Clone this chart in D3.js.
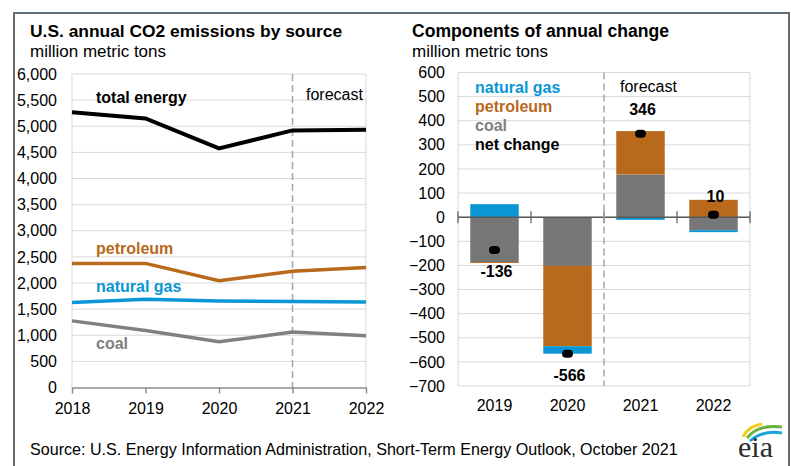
<!DOCTYPE html>
<html>
<head>
<meta charset="utf-8">
<script src="https://cdn.jsdelivr.net/npm/d3@7"></script>
<style>
  body { margin: 0; background: #fff; }
  svg { display: block; font-family: "Liberation Sans", Arial, sans-serif; }
</style>
</head>
<body>
<div id="chart"></div>
<script>
// left panel: annual emissions by source
var years = [2018, 2019, 2020, 2021, 2022];
var totalEnergy = [5270, 5150, 4575, 4920, 4935];
var petroleum = [2375, 2375, 2045, 2225, 2295];
var naturalGas = [1625, 1690, 1655, 1645, 1635];
var coal = [1275, 1090, 875, 1060, 990];
var leftTicks = d3.range(0, 6001, 500);

// right panel: components of annual change
var changeYears = [2019, 2020, 2021, 2022];
var coalChange = [-186, -202, 177, -54];
var petChange = [-4, -333, 180, 72];
var gasChange = [54, -31, -11, -8];
var netChange = [-136, -566, 346, 10];
var rightTicks = d3.range(-700, 601, 100);

var colors = { gas: "#0a96d4", pet: "#b8691b", coal: "#767676", coalLine: "#808080" };

var svg = d3.select("#chart").append("svg")
    .attr("width", 791)
    .attr("height", 466);

svg.append("rect").attr("width", 791).attr("height", 466).attr("fill", "#fff");

// outer frame
svg.append("path")
    .attr("d", "M14,466 V13 H789 V466")
    .attr("fill", "none")
    .attr("stroke", "#5f6e78")
    .attr("stroke-width", 2);

var fmt = d3.format(",");

/* ---------- left chart ---------- */
var x = d3.scalePoint().domain(years).range([72, 366]);
var y = d3.scaleLinear().domain([0, 6000]).range([387.5, 74]);

var left = svg.append("g");

left.append("text").attr("x", 30).attr("y", 37)
    .attr("font-size", 17.4).attr("font-weight", "bold").text("U.S. annual CO2 emissions by source");
left.append("text").attr("x", 30).attr("y", 57)
    .attr("font-size", 17).text("million metric tons");

left.selectAll(".grid").data(leftTicks.slice(1)).enter().append("line")
    .attr("x1", x.range()[0]).attr("x2", x.range()[1])
    .attr("y1", function (d) { return y(d); }).attr("y2", function (d) { return y(d); })
    .attr("stroke", "#d9d9d9").attr("stroke-width", 1);
left.append("line").attr("x1", 72).attr("x2", 72).attr("y1", 74).attr("y2", 387.5)
    .attr("stroke", "#d9d9d9");
left.append("line").attr("x1", 366).attr("x2", 366).attr("y1", 74).attr("y2", 387.5)
    .attr("stroke", "#d9d9d9");

// forecast divider
left.append("line").attr("x1", x(2021)).attr("x2", x(2021)).attr("y1", 74).attr("y2", 387.5)
    .attr("stroke", "#a6a6a6").attr("stroke-width", 1.5).attr("stroke-dasharray", "7,4");

var yAxisL = d3.axisLeft(y).tickValues(leftTicks).tickFormat(fmt).tickSize(0).tickPadding(0);
var gyl = left.append("g").attr("transform", "translate(57,0)").call(yAxisL);
gyl.select(".domain").remove();
gyl.selectAll("text").attr("font-size", 16).attr("fill", "#000").attr("font-family", null);

var xAxisL = d3.axisBottom(x).tickSize(6).tickPadding(9).tickSizeOuter(0);
var gxl = left.append("g").attr("transform", "translate(0,387.5)").call(xAxisL);
gxl.select(".domain").attr("stroke", "#8c8c8c").attr("stroke-width", 1.5);
gxl.selectAll(".tick line").attr("stroke", "#8c8c8c").attr("stroke-width", 1.5);
gxl.selectAll("text").attr("font-size", 16).attr("fill", "#000").attr("font-family", null);

var line = d3.line()
    .x(function (d, i) { return x(years[i]); })
    .y(function (d) { return y(d); });

var series = [
  { values: coal, color: colors.coalLine, width: 3.5 },
  { values: naturalGas, color: colors.gas, width: 3.5 },
  { values: petroleum, color: colors.pet, width: 3.5 },
  { values: totalEnergy, color: "#000", width: 4 }
];
left.selectAll(".series").data(series).enter().append("path")
    .attr("d", function (d) { return line(d.values); })
    .attr("fill", "none")
    .attr("stroke", function (d) { return d.color; })
    .attr("stroke-width", function (d) { return d.width; })
    .attr("stroke-linejoin", "miter");

var leftLabels = [
  { text: "total energy", color: "#000", yv: 5450 },
  { text: "petroleum", color: colors.pet, yv: 2550 },
  { text: "natural gas", color: colors.gas, yv: 1830 },
  { text: "coal", color: colors.coalLine, yv: 740 }
];
left.selectAll(".lbl").data(leftLabels).enter().append("text")
    .attr("x", 96).attr("y", function (d) { return y(d.yv); })
    .attr("font-size", 16).attr("font-weight", "bold")
    .attr("fill", function (d) { return d.color; })
    .text(function (d) { return d.text; });
left.append("text").attr("x", 306).attr("y", 100).attr("font-size", 16).text("forecast");

/* ---------- right chart ---------- */
var xb = d3.scaleBand().domain(changeYears).range([458, 750]).paddingInner(0.336).paddingOuter(0.168);
var yr = d3.scaleLinear().domain([-700, 600]).range([386, 72.5]);

var right = svg.append("g");
right.append("text").attr("x", 412).attr("y", 37)
    .attr("font-size", 17.6).attr("font-weight", "bold").text("Components of annual change");
right.append("text").attr("x", 412).attr("y", 57)
    .attr("font-size", 17).text("million metric tons");

right.selectAll(".grid").data(rightTicks).enter().append("line")
    .attr("x1", 458).attr("x2", 750)
    .attr("y1", function (d) { return yr(d); }).attr("y2", function (d) { return yr(d); })
    .attr("stroke", "#d9d9d9");
right.append("line").attr("x1", 458).attr("x2", 458).attr("y1", yr(600)).attr("y2", yr(-700)).attr("stroke", "#d9d9d9");
right.append("line").attr("x1", 750).attr("x2", 750).attr("y1", yr(600)).attr("y2", yr(-700)).attr("stroke", "#d9d9d9");

var yAxisR = d3.axisLeft(yr).tickValues(rightTicks).tickSize(0).tickPadding(0);
var gyr = right.append("g").attr("transform", "translate(445,0)").call(yAxisR);
gyr.select(".domain").remove();
gyr.selectAll("text").attr("font-size", 16).attr("fill", "#000").attr("font-family", null);

var rows = changeYears.map(function (yr0, i) {
  return { year: yr0, coal: coalChange[i], petroleum: petChange[i], gas: gasChange[i], net: netChange[i] };
});
var keys = ["coal", "petroleum", "gas"];
var keyColor = { coal: colors.coal, petroleum: colors.pet, gas: colors.gas };
var stacked = d3.stack().keys(keys).offset(d3.stackOffsetDiverging)(rows);

right.selectAll(".layer").data(stacked).enter().append("g")
    .attr("fill", function (d) { return keyColor[d.key]; })
  .selectAll("rect").data(function (d) { return d; }).enter().append("rect")
    .attr("x", function (d) { return xb(d.data.year); })
    .attr("width", xb.bandwidth())
    .attr("y", function (d) { return yr(Math.max(d[0], d[1])); })
    .attr("height", function (d) { return Math.abs(yr(d[0]) - yr(d[1])); });

// zero axis with category boundary ticks
right.append("line").attr("x1", 458).attr("x2", 750).attr("y1", yr(0)).attr("y2", yr(0))
    .attr("stroke", "#595959").attr("stroke-width", 1.5);
var bounds = changeYears.map(function (d) { return xb(d) - xb.step() * xb.paddingInner() / 2; });
bounds[0] = 458;
bounds.push(750);
right.selectAll(".btick").data(bounds).enter().append("line")
    .attr("x1", function (d) { return d; }).attr("x2", function (d) { return d; })
    .attr("y1", yr(0) - 6).attr("y2", yr(0) + 6)
    .attr("stroke", "#595959").attr("stroke-width", 1.2);

// forecast divider
var divX = xb(2021) - xb.step() * xb.paddingInner() / 2;
right.append("line").attr("x1", divX).attr("x2", divX).attr("y1", yr(600)).attr("y2", yr(-700))
    .attr("stroke", "#a6a6a6").attr("stroke-width", 1.5).attr("stroke-dasharray", "7,4");

// net change markers and labels
right.selectAll(".dot").data(rows).enter().append("rect")
    .attr("x", function (d) { return xb(d.year) + xb.bandwidth() / 2 - 5.5; })
    .attr("y", function (d) { return yr(d.net) - 4; })
    .attr("width", 11).attr("height", 8).attr("rx", 4).attr("fill", "#000");
right.selectAll(".val").data(rows).enter().append("text")
    .attr("x", function (d) { return xb(d.year) + xb.bandwidth() / 2 + 2; })
    .attr("y", function (d) { return yr(d.net) + (d.net > 100 ? -19 : d.net > 0 ? -13 : 27); })
    .attr("text-anchor", "middle").attr("font-size", 16).attr("font-weight", "bold")
    .text(function (d) { return d.net; });

var xAxisR = d3.axisBottom(xb).tickSize(0).tickPadding(0);
var gxr = right.append("g").attr("transform", "translate(0,400)").call(xAxisR);
gxr.select(".domain").remove();
gxr.selectAll("text").attr("font-size", 16).attr("fill", "#000").attr("font-family", null).attr("dy", "0.71em");

var legend = [
  { text: "natural gas", color: colors.gas },
  { text: "petroleum", color: colors.pet },
  { text: "coal", color: colors.coalLine },
  { text: "net change", color: "#000" }
];
right.selectAll(".leg").data(legend).enter().append("text")
    .attr("x", 475).attr("y", function (d, i) { return 93 + i * 19; })
    .attr("font-size", 16).attr("font-weight", "bold")
    .attr("fill", function (d) { return d.color; })
    .text(function (d) { return d.text; });
right.append("text").attr("x", 620).attr("y", 92).attr("font-size", 16).text("forecast");

/* ---------- footer ---------- */
svg.append("text").attr("x", 30).attr("y", 455).attr("font-size", 16.1)
    .text("Source: U.S. Energy Information Administration, Short-Term Energy Outlook, October 2021");

var logo = svg.append("g");
logo.append("path").attr("d", "M743,437 Q748,426 762,424").attr("fill", "none").attr("stroke", "#f2cd1e").attr("stroke-width", 3);
logo.append("path").attr("d", "M747,438 Q758,424 782,427").attr("fill", "none").attr("stroke", "#6ab23e").attr("stroke-width", 3);
logo.append("path").attr("d", "M750,441 Q762,430 782,433").attr("fill", "none").attr("stroke", "#1aa3d8").attr("stroke-width", 3);
logo.append("text").attr("x", 738).attr("y", 457)
    .attr("font-family", "'Liberation Serif', serif").attr("font-size", 30).attr("fill", "#2b2b2b")
    .text("eia");
</script>
</body>
</html>
